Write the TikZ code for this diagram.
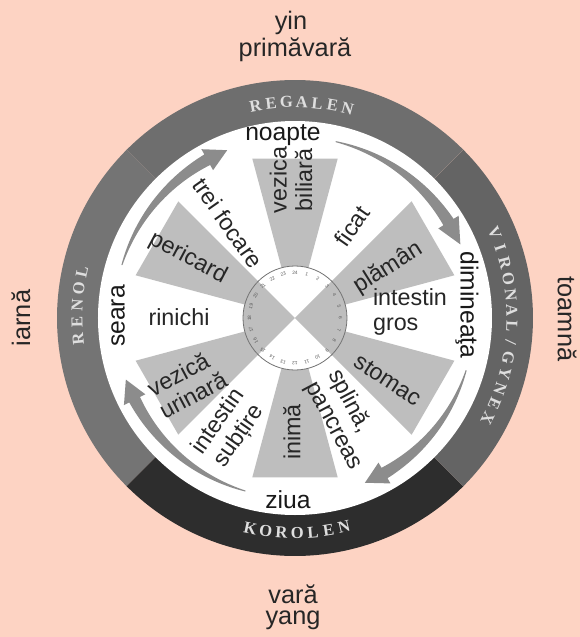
\documentclass[tikz,border=0pt]{standalone}
\usepackage{fontspec}
\setmainfont{Liberation Sans}
\newfontfamily\ringfont{Liberation Serif}
\definecolor{bgpeach}{RGB}{253,211,195}
\definecolor{ringtop}{RGB}{110,110,110}
\definecolor{ringleft}{RGB}{116,116,116}
\definecolor{ringright}{RGB}{100,100,100}
\definecolor{ringbottom}{RGB}{45,45,45}
\definecolor{wedgegray}{RGB}{190,190,190}
\definecolor{arrowgray}{RGB}{140,140,140}
\definecolor{lettergray}{RGB}{222,222,222}
\newcommand\wheelarrow[4]{%
 \fill[arrowgray] plot[domain=#1:#2,samples=40] (\x:{#4+0.5+5.5*(\x-(#1))/((#2)-(#1))})
   -- (#2:{#4+12}) -- (#3:#4) -- (#2:{#4-12})
   -- plot[domain=#2:#1,samples=40] (\x:{#4-0.5-5.5*(\x-(#1))/((#2)-(#1))}) -- cycle;}
\tikzset{
 organ/.style={font=\fontsize{17.5}{19}\selectfont, text=black!85, inner sep=0pt},
 timelbl/.style={font=\fontsize{18.5}{20}\selectfont, text=black!90, inner sep=0pt},
 outerlbl/.style={font=\fontsize{19}{22}\selectfont, text=black!85, inner sep=0pt},
 ringletter/.style={font=\ringfont\fontsize{12.5}{13}\selectfont\bfseries, text=lettergray, inner sep=0pt},
 dialnum/.style={font=\fontsize{3.6}{4}\selectfont, text=black!65, inner sep=0pt}
}
\begin{document}
\begin{tikzpicture}[x=0.75pt,y=0.75pt]
\useasboundingbox (-295,-319) rectangle (285,318);
\fill[bgpeach] (-295,-319) rectangle (285,318);
% outer ring sectors
\fill[ringtop] (0,0) -- plot[domain=45:135,samples=60] (\x:238) -- cycle;
\fill[ringleft] (0,0) -- plot[domain=135:225,samples=60] (\x:238) -- cycle;
\fill[ringbottom] (0,0) -- plot[domain=225:315,samples=60] (\x:238) -- cycle;
\fill[ringright] (0,0) -- plot[domain=-45:45,samples=60] (\x:238) -- cycle;
\fill[white] (0,0) circle[radius=197];
% organ wedges
\foreach \c in {90,30,-30,-90,-150,150}
  \fill[wedgegray] (0,0) -- ({\c-15}:165) -- ({\c+15}:165) -- cycle;
% central dial
\fill[white] (0,0) circle[radius=52];
\fill[wedgegray] (0,0) -- plot[domain=45:-45,samples=30] (\x:52) -- cycle;
\fill[wedgegray] (0,0) -- plot[domain=135:225,samples=30] (\x:52) -- cycle;
\draw[black!55, line width=0.6pt] (0,0) circle[radius=52];
\foreach \k in {1,...,24}
  \node[dialnum, rotate={-15*\k}] (num\k) at ({90-15*\k}:45.5) {\k};
% ring letters
\foreach \ch [count=\i] in {R,E,G,A,L,E,N}
  \node[ringletter, rotate={100.5-4.1*(\i-1)-90}] (rg\i) at ({100.5-4.1*(\i-1)}:216) {\ch};
\foreach \ch [count=\i] in {V,I,R,O,N,A,L,/,G,Y,N,E,X}
  \node[ringletter, rotate={23-4.2*(\i-1)-90}] (vg\i) at ({23-4.2*(\i-1)}:217) {\ch};
\foreach \ch [count=\i] in {R,E,N,O,L}
  \node[ringletter, rotate={185.5-4.4*(\i-1)-90}] (rn\i) at ({185.5-4.4*(\i-1)}:218) {\ch};
\foreach \ch [count=\i] in {K,O,R,O,L,E,N}
  \node[ringletter, rotate={-102+4.2*(\i-1)+90}] (kr\i) at ({-102+4.2*(\i-1)}:215) {\ch};
% arrows
\wheelarrow{77}{32}{24}{181}
\wheelarrow{-17}{-60}{-67}{179}
\wheelarrow{-106}{-153}{-160}{180}
\wheelarrow{163}{119}{112}{181}
% time labels
\node[timelbl] (noapte) at (-12,183) {noapte};
\node[timelbl, rotate=-90] (dim) at (172,13) {diminea\c{t}a};
\node[timelbl] (ziua) at (-7,-182) {ziua};
\node[timelbl, rotate=90] (seara) at (-177,2) {seara};
% organ labels
\node[organ, rotate=90, align=center] (vb) at (-4,138) {vezica\\biliară};
\node[organ, rotate=55] (ficat) at (57,92) {ficat};
\node[organ, rotate=32] (plaman) at (93,50) {plămân};
\node[organ, align=left] (ig) at (115,6) {intestin\\gros};
\node[organ, rotate=-33] (stomac) at (93,-62) {stomac};
\node[organ, rotate=-62, align=left] (sp) at (50,-102) {splină,\\pancreas};
\node[organ, rotate=90] (inima) at (-3,-114) {inimă};
\node[organ, rotate=55, align=center] (is) at (-66,-111) {intestin\\subțire};
\node[organ, rotate=28, align=left] (vu) at (-108,-66) {vezică\\urinară};
\node[organ] (rinichi) at (-116,1) {rinichi};
\node[organ, rotate=-28] (pericard) at (-107,60) {pericard};
\node[organ, rotate=-55] (tf) at (-67,95) {trei focare};
% outer labels
\node[outerlbl] (yin) at (-4,295) {yin};
\node[outerlbl] (prim) at (0,268) {primăvară};
\node[outerlbl] (vara) at (-2,-276) {vară};
\node[outerlbl] (yang) at (-2,-302) {yang};
\node[outerlbl, rotate=90] (iarna) at (-274,0) {iarnă};
\node[outerlbl, rotate=-90] (toamna) at (272,-1) {toamnă};
\end{tikzpicture}
\end{document}
